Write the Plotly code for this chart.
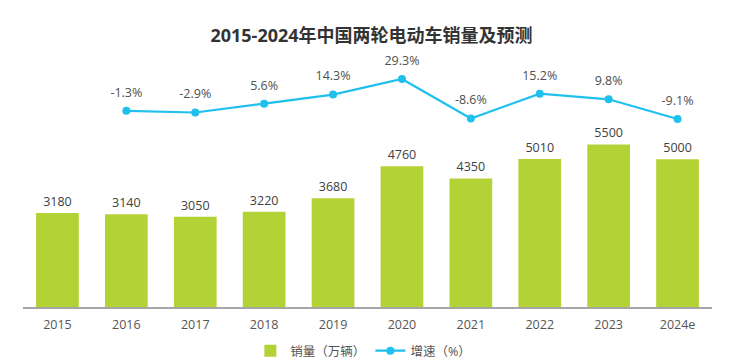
import plotly.graph_objects as go

years = ["2015", "2016", "2017", "2018", "2019", "2020", "2021", "2022", "2023", "2024e"]
sales = [3180, 3140, 3050, 3220, 3680, 4760, 4350, 5010, 5500, 5000]
growth = [None, -1.3, -2.9, 5.6, 14.3, 29.3, -8.6, 15.2, 9.8, -9.1]

FONT = "Open Sans, Noto Sans CJK SC, sans-serif"
BAR_COLOR = "#B3D236"
LINE_COLOR = "#1FC0EE"

fig = go.Figure()
fig.add_trace(go.Bar(
    x=years, y=sales, name="销量（万辆）",
    marker=dict(color=BAR_COLOR, line=dict(width=0)),
    text=[str(v) for v in sales], textposition="outside",
    textfont=dict(size=12.5, color="#404040", family=FONT),
    cliponaxis=False, width=0.62,
))
fig.add_trace(go.Scatter(
    x=years, y=growth, name="增速（%）", yaxis="y2",
    mode="lines+markers",
    line=dict(color=LINE_COLOR, width=2.2),
    marker=dict(color=LINE_COLOR, size=8),
    cliponaxis=False, connectgaps=False,
))
# percentage labels (placed a little higher above the points)
fig.add_trace(go.Scatter(
    x=years, y=growth, yaxis="y2", mode="text+markers", showlegend=False,
    marker=dict(size=16, color="rgba(0,0,0,0)"),
    text=[("" if v is None else f"{v}%") for v in growth],
    textposition="top center",
    textfont=dict(size=12.5, color="#505050", family=FONT),
    cliponaxis=False, hoverinfo="skip",
))

fig.update_layout(
    width=717, height=354,
    margin=dict(l=15, r=13, t=52, b=55, autoexpand=False),
    paper_bgcolor="white", plot_bgcolor="white",
    title=dict(text="<b>2015-2024年中国两轮电动车销量及预测</b>", x=0.507, xanchor="center",
               yref="container", y=0.921, yanchor="middle",
               font=dict(size=18, color="#333333", family=FONT)),
    font=dict(family=FONT, size=12, color="#555555"),
    xaxis=dict(showline=True, linecolor="#A6A6A6", linewidth=1.5,
               range=[-0.5, len(years) - 0.5],
               ticks="outside", ticklen=5, tickcolor="rgba(0,0,0,0)",
               tickfont=dict(size=12.5, color="#555555"), automargin=False),
    yaxis=dict(range=[0, 8356], visible=False, showgrid=False),
    yaxis2=dict(range=[-190, 47.6], overlaying="y", visible=False, showgrid=False),
    bargap=0.38,
    showlegend=True,
    legend=dict(orientation="h", x=0.494, xanchor="center", yref="container",
                y=0.031, yanchor="middle",
                font=dict(size=12.5, color="#555555"), itemwidth=30),
)

fig.write_html("out.html")
